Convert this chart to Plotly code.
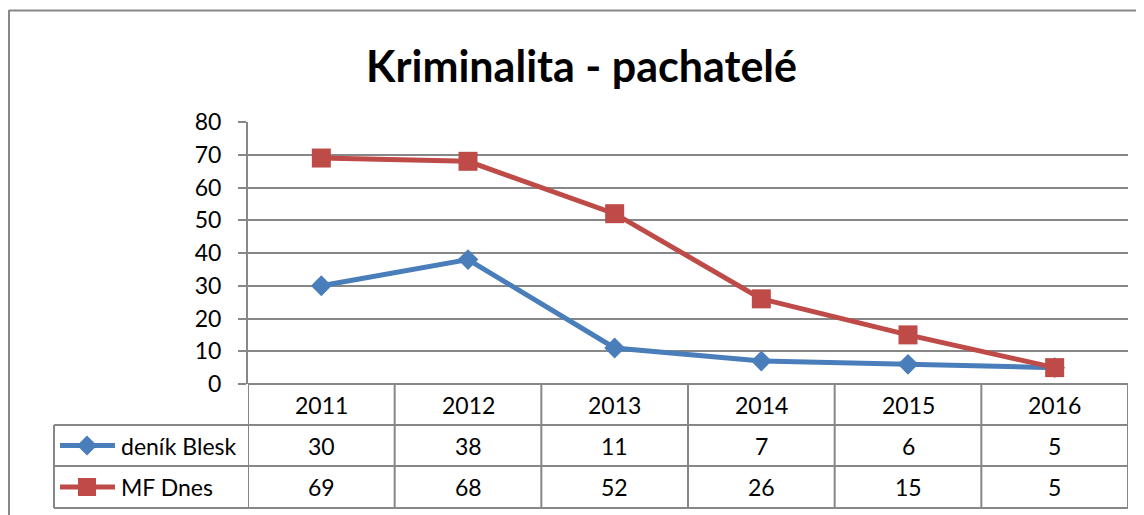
import plotly.graph_objects as go

# data
years = ["2011", "2012", "2013", "2014", "2015", "2016"]
blesk = [30, 38, 11, 7, 6, 5]
mf_dnes = [69, 68, 52, 26, 15, 5]
series_names = ["deník Blesk", "MF Dnes"]
y_ticks = [0, 10, 20, 30, 40, 50, 60, 70, 80]

# page has an 8px body margin, so the figure is a bit smaller than the window
OFF = 8
W, H = 1144 - OFF, 515 - OFF
FONT = "Lato, Carlito, Calibri, sans-serif"
GRID = "#878787"
BLUE = "#4A7EBB"
RED = "#BE4B48"

# window pixel -> paper fraction
def px(x):
    return (x - OFF) / W

def py(y):
    return 1 - (y - OFF) / H

plot_l, plot_r = 248, 1128
plot_t, plot_b = 122, 384
row_y = [384, 425, 466, 508]   # table row edges
leg_l = 54

xs = list(range(len(years)))

fig = go.Figure()
fig.add_trace(go.Scatter(x=xs, y=blesk, mode="lines+markers", name=series_names[0],
                         line=dict(color=BLUE, width=5),
                         marker=dict(symbol="diamond", size=16, color=BLUE)))
fig.add_trace(go.Scatter(x=xs, y=mf_dnes, mode="lines+markers", name=series_names[1],
                         line=dict(color=RED, width=5),
                         marker=dict(symbol="square", size=19, color=RED)))

shapes = []
line_style = dict(color=GRID, width=2)
# outer chart border (left and top only visible)
shapes.append(dict(type="line", xref="paper", yref="paper", x0=px(9), x1=px(9),
                   y0=py(10), y1=0, line=line_style))
shapes.append(dict(type="line", xref="paper", yref="paper", x0=px(9), x1=1,
                   y0=py(10.5), y1=py(10.5), line=line_style))

# table horizontal lines
shapes.append(dict(type="line", xref="paper", yref="paper", x0=px(plot_l), x1=px(plot_r),
                   y0=py(row_y[0]), y1=py(row_y[0]), line=line_style))
for r in row_y[1:]:
    shapes.append(dict(type="line", xref="paper", yref="paper", x0=px(leg_l), x1=px(plot_r),
                       y0=py(r), y1=py(r), line=line_style))
# table vertical lines
shapes.append(dict(type="line", xref="paper", yref="paper", x0=px(leg_l), x1=px(leg_l),
                   y0=py(row_y[1]), y1=py(row_y[3]), line=line_style))
for i in range(len(years) + 1):
    shapes.append(dict(type="line", xref="x", yref="paper", x0=i - 0.5, x1=i - 0.5,
                       y0=py(row_y[0]), y1=py(row_y[3]), line=line_style))

# legend keys inside the table
key_colors = [BLUE, RED]
for k in range(2):
    yc = (row_y[k + 1] + row_y[k + 2]) / 2
    c = key_colors[k]
    shapes.append(dict(type="line", xref="paper", yref="paper", x0=px(60), x1=px(115),
                       y0=py(yc), y1=py(yc), line=dict(color=c, width=5)))
    if k == 0:
        d = 10
        path = (f"M {px(87 - d)} {py(yc)} L {px(87)} {py(yc - d)} "
                f"L {px(87 + d)} {py(yc)} L {px(87)} {py(yc + d)} Z")
        shapes.append(dict(type="path", xref="paper", yref="paper", path=path,
                           fillcolor=c, line=dict(width=0)))
    else:
        s = 9
        shapes.append(dict(type="rect", xref="paper", yref="paper",
                           x0=px(87 - s), x1=px(87 + s), y0=py(yc - s), y1=py(yc + s),
                           fillcolor=c, line=dict(width=0)))

annotations = []
tfont = dict(family=FONT, size=23, color="black")
for i, yr in enumerate(years):
    for k, val in enumerate([yr, str(blesk[i]), str(mf_dnes[i])]):
        annotations.append(dict(x=i, y=py((row_y[k] + row_y[k + 1]) / 2),
                                xref="x", yref="paper", xanchor="center", yanchor="middle",
                                text=val, showarrow=False, font=tfont))
for k, name in enumerate(series_names):
    annotations.append(dict(x=px(119), y=py((row_y[k + 1] + row_y[k + 2]) / 2),
                            xref="paper", yref="paper", xanchor="left", yanchor="middle",
                            text=name, showarrow=False, font=tfont))
annotations.append(dict(x=px(581), y=py(65), xref="paper", yref="paper",
                        xanchor="center", yanchor="middle",
                        text="<b>Kriminalita - pachatelé</b>", showarrow=False,
                        font=dict(family=FONT, size=43, color="black")))

fig.update_layout(
    template="none",
    width=W, height=H,
    autosize=False,
    margin=dict(l=0, r=0, t=0, b=0, pad=0, autoexpand=False),
    paper_bgcolor="white", plot_bgcolor="white",
    showlegend=False,
    font=dict(family=FONT, size=23, color="black"),
    xaxis=dict(domain=[px(plot_l), px(plot_r)], range=[-0.5, len(years) - 0.5],
               showticklabels=False, showgrid=False, zeroline=False, showline=False,
               automargin=False),
    yaxis=dict(domain=[py(plot_b), py(plot_t)], range=[0, 80], tickvals=y_ticks,
               showgrid=True, gridcolor=GRID, gridwidth=2, zeroline=False,
               showline=True, linecolor=GRID, linewidth=2,
               ticks="outside", ticklen=8, tickcolor=GRID, tickwidth=2,
               ticklabelstandoff=12,
               automargin=False, tickfont=dict(family=FONT, size=23)),
    shapes=shapes,
    annotations=annotations,
)

fig.write_html("out.html")
